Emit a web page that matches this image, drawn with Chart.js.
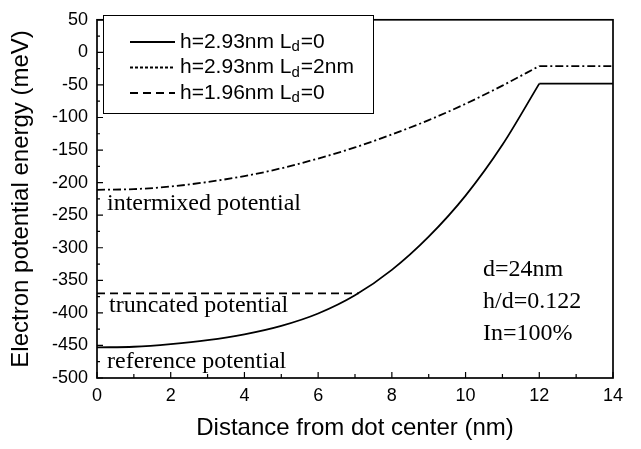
<!DOCTYPE html>
<html>
<head>
<meta charset="utf-8">
<script src="https://cdn.jsdelivr.net/npm/chart.js@4.4.1/dist/chart.umd.min.js"></script>
<style>
html, body { margin: 0; padding: 0; background: #fff; }
</style>
</head>
<body>
<canvas id="myChart" width="641" height="449"></canvas>
<script>
// distance from dot center (nm)
var distance = [0, 1, 2, 3, 4, 5, 6, 7, 8, 9, 10, 11, 12];
var plateauX = [12, 14];
// h=2.93nm Ld=0 (reference potential)
var refPot = [-453, -452, -448, -442, -433, -420, -401, -373, -334, -283, -220, -142, -48];
var refPlateau = [-48, -48];
// h=2.93nm Ld=2nm (intermixed potential)
var mixPot = [-211, -210, -206, -199, -190, -178, -163, -146, -126, -104, -79, -51, -21];
var mixPlateau = [-21, -21];
// h=1.96nm Ld=0 (truncated potential)
var truncX = [0, 7.1];
var truncPot = [-370, -370];

var legendItems = [
	{ txt: 'h=2.93nm L', sub: 'd', end: '=0', dash: [] },
	{ txt: 'h=2.93nm L', sub: 'd', end: '=2nm', dash: [3, 2] },
	{ txt: 'h=1.96nm L', sub: 'd', end: '=0', dash: [8, 5] }
];
var curveNotes = ['intermixed potential', 'truncated potential', 'reference potential'];
var paramNotes = ['d=24nm', 'h/d=0.122', 'In=100%'];

function pts(xs, ys) {
	var out = [];
	for (var i in xs) out.push({ x: xs[i], y: ys[i] });
	return out;
}

var SANS = "'Liberation Sans', Arial, sans-serif";
var SERIF = "'Liberation Serif', 'Times New Roman', serif";
var dashDot = [8, 3, 2, 3];

var framePlugin = {
	id: 'frame',
	afterDraw: function(chart) {
		var ctx = chart.ctx;
		var a = chart.chartArea;
		var xs = chart.scales.x, ys = chart.scales.y;
		ctx.save();
		ctx.strokeStyle = '#000';
		ctx.lineWidth = 1.7;
		ctx.setLineDash([]);
		ctx.strokeRect(a.left, a.top, a.right - a.left, a.bottom - a.top);

		// inward ticks
		ctx.lineWidth = 1.2;
		ctx.beginPath();
		for (var v = -500; v <= 50; v += 25) {
			var py = ys.getPixelForValue(v);
			var len = (v % 50 === 0) ? 6 : 3;
			ctx.moveTo(a.left, py);
			ctx.lineTo(a.left + len, py);
		}
		for (var d = 0; d <= 14; d += 1) {
			var px = xs.getPixelForValue(d);
			var l2 = (d % 2 === 0) ? 6 : 4;
			ctx.moveTo(px, a.bottom);
			ctx.lineTo(px, a.bottom - l2);
		}
		ctx.stroke();

		// curve notes
		ctx.fillStyle = '#000';
		ctx.font = '24px ' + SERIF;
		ctx.textBaseline = 'alphabetic';
		ctx.textAlign = 'left';
		ctx.fillText(curveNotes[0], 107, 210);
		ctx.fillText(curveNotes[1], 109, 312);
		ctx.fillText(curveNotes[2], 107, 368);
		for (var k = 0; k < paramNotes.length; k++) {
			ctx.fillText(paramNotes[k], 483, 276 + k * 32);
		}

		// legend box
		ctx.lineWidth = 1;
		ctx.fillStyle = '#fff';
		ctx.fillRect(103.5, 15.5, 270, 98);
		ctx.strokeRect(103.5, 15.5, 270, 98);
		ctx.fillStyle = '#000';
		for (var j = 0; j < legendItems.length; j++) {
			var it = legendItems[j];
			var ly = 42 + j * 25.5;
			ctx.lineWidth = 1.8;
			ctx.setLineDash(it.dash);
			ctx.beginPath();
			ctx.moveTo(130, ly);
			ctx.lineTo(175, ly);
			ctx.stroke();
			ctx.setLineDash([]);
			ctx.textBaseline = 'middle';
			ctx.font = '21px ' + SANS;
			ctx.fillText(it.txt, 180, ly);
			var w = ctx.measureText(it.txt).width;
			ctx.font = '15px ' + SANS;
			ctx.fillText(it.sub, 180 + w, ly + 5);
			var w2 = ctx.measureText(it.sub).width;
			ctx.font = '21px ' + SANS;
			ctx.fillText(it.end, 180 + w + w2 + 1, ly);
		}
		ctx.restore();
	}
};

var ctx = document.getElementById('myChart');

var lineChart = new Chart(ctx, {
	type: 'line',
	data: {
		datasets: [
			{ label: 'h=2.93nm Ld=0', data: pts(distance, refPot), borderDash: [], cubicInterpolationMode: 'monotone' },
			{ label: 'h=2.93nm Ld=0 plateau', data: pts(plateauX, refPlateau), borderDash: [] },
			{ label: 'h=2.93nm Ld=2nm', data: pts(distance, mixPot), borderDash: dashDot, cubicInterpolationMode: 'monotone' },
			{ label: 'h=2.93nm Ld=2nm plateau', data: pts(plateauX, mixPlateau), borderDash: dashDot },
			{ label: 'h=1.96nm Ld=0', data: pts(truncX, truncPot), borderDash: [8, 5] }
		]
	},
	options: {
		responsive: false,
		animation: false,
		devicePixelRatio: 1,
		layout: { padding: { left: 0, right: 28, top: 12, bottom: 0 } },
		elements: {
			line: { borderColor: '#000', borderWidth: 1.8, fill: false },
			point: { radius: 0 }
		},
		plugins: {
			legend: { display: false },
			tooltip: { enabled: false }
		},
		scales: {
			x: {
				type: 'linear',
				min: 0,
				max: 14,
				ticks: { stepSize: 2, color: '#000', padding: 7, font: { size: 18, family: SANS } },
				grid: { display: false, drawTicks: false },
				border: { display: false },
				title: { display: true, text: 'Distance from dot center (nm)', color: '#000', font: { size: 24, family: SANS }, padding: { top: 0, bottom: 6 } },
				afterFit: function(s) { s.height = 71; }
			},
			y: {
				type: 'linear',
				min: -500,
				max: 50,
				ticks: { stepSize: 50, color: '#000', padding: 9, font: { size: 18, family: SANS } },
				grid: { display: false, drawTicks: false },
				border: { display: false },
				title: { display: true, text: 'Electron potential energy (meV)', color: '#000', font: { size: 24, family: SANS }, padding: { top: 7, bottom: 0 } },
				afterFit: function(s) { s.width = 97; }
			}
		}
	},
	plugins: [framePlugin]
});
</script>
</body>
</html>
